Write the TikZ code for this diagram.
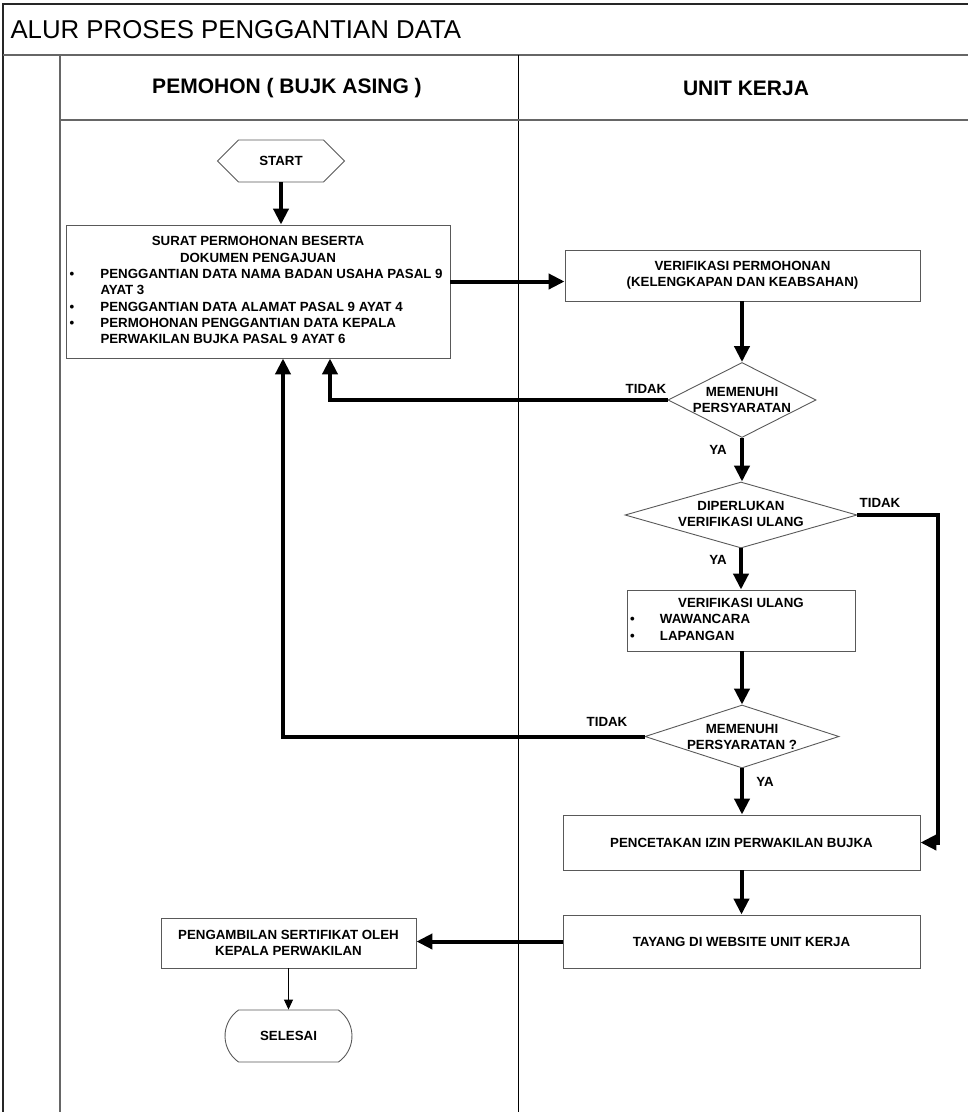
\documentclass[tikz,border=0pt]{standalone}
\usepackage{fontspec}
\setmainfont{Liberation Sans}
\usetikzlibrary{arrows.meta,shapes.geometric,shapes.symbols,shapes.misc}
\begin{document}
\begin{tikzpicture}[x=1pt,y=-1pt,
  txt/.style={font=\fontsize{13.3}{16.3}\selectfont\bfseries, text=black},
  box/.style={draw=black!65, line width=0.9pt, fill=white, inner sep=0pt, txt},
  dia/.style={draw=black!65, line width=0.9pt, diamond, inner sep=0pt},
  arr/.style={line width=4pt, -{Triangle[length=16pt,width=15pt]}},
  thinarr/.style={line width=1pt, -{Triangle[length=10pt,width=9pt]}},
  lane/.style={line width=1.2pt, draw=black!60},
  lbl/.style={txt}]
\useasboundingbox (0,0) rectangle (968,1112);
% frame and lanes
\coordinate (tl) at (3,4);
\coordinate (tr) at (968,4);
\coordinate (bl) at (3,1112);
\draw[line width=1.6pt, draw=black!85] (tr) -- (tl) -- (bl);
\draw[lane, line width=1.8pt] (3,55) -- (968,55);
\draw[lane] (60,55) -- (60,1112);
\draw[line width=1pt] (518,55) -- (518,1112);
\draw[lane] (60,120) -- (968,120);
\node[anchor=west, font=\fontsize{25.8}{28}\selectfont] (title) at (7,30) {ALUR PROSES PENGGANTIAN DATA};
\node[font=\fontsize{21}{24}\selectfont\bfseries] (h1) at (287,88) {PEMOHON ( BUJK ASING )};
\node[font=\fontsize{21}{24}\selectfont\bfseries] (h2) at (746,88) {UNIT KERJA};

% nodes
\node[signal, signal to=west and east, draw=black!65, line width=0.9pt, fill=white,
      minimum width=127pt, minimum height=42pt, inner sep=0pt, txt] (st) at (281,161) {START};
\node[box, minimum width=384pt, minimum height=133pt] (b1) at (258,291.5)
 {\begin{tabular}{@{}p{31pt}@{}p{346pt}@{}}
  \multicolumn{2}{@{}c@{}}{SURAT PERMOHONAN BESERTA}\\
  \multicolumn{2}{@{}c@{}}{DOKUMEN PENGAJUAN}\\
  \textbullet & PENGGANTIAN DATA NAMA BADAN USAHA PASAL 9\\
   & AYAT 3\\
  \textbullet & PENGGANTIAN DATA ALAMAT PASAL 9 AYAT 4\\
  \textbullet & PERMOHONAN PENGGANTIAN DATA KEPALA\\
   & PERWAKILAN BUJKA PASAL 9 AYAT 6
  \end{tabular}};
\node[box, align=center, minimum width=355pt, minimum height=51pt] (v1) at (742.5,275.5)
 {VERIFIKASI PERMOHONAN\\(KELENGKAPAN DAN KEABSAHAN)};
\node[dia, minimum width=148pt, minimum height=75pt] (d1) at (742,400) {};
\node[txt, align=center] (d1t) at (742,400) {MEMENUHI\\PERSYARATAN};
\node[dia, minimum width=232pt, minimum height=66pt] (d2) at (741,515) {};
\node[txt, align=center] (d2t) at (741,514) {DIPERLUKAN\\VERIFIKASI ULANG};
\node[box, minimum width=228pt, minimum height=61pt] (b3) at (741,620.5)
 {\begin{tabular}{@{}p{30pt}@{}p{192pt}@{}}
  \multicolumn{2}{@{}c@{}}{VERIFIKASI ULANG}\\
  \textbullet & WAWANCARA\\
  \textbullet & LAPANGAN
  \end{tabular}};
\node[dia, minimum width=194pt, minimum height=63pt] (d3) at (742,736.5) {};
\node[txt, align=center] (d3t) at (742,737) {MEMENUHI\\PERSYARATAN ?};
\node[box, minimum width=357pt, minimum height=55pt] (p4) at (741.5,842.5) {PENCETAKAN IZIN PERWAKILAN BUJKA};
\node[box, minimum width=357pt, minimum height=53pt] (p5) at (741.5,941.5) {TAYANG DI WEBSITE UNIT KERJA};
\node[box, align=center, minimum width=255pt, minimum height=50pt] (p6) at (288.5,943)
 {PENGAMBILAN SERTIFIKAT OLEH\\KEPALA PERWAKILAN};
\node[rounded rectangle, rounded rectangle arc length=110, draw=black!65, line width=0.9pt,
      minimum width=127pt, minimum height=52pt, inner sep=0pt, txt] (sel) at (288.5,1036) {SELESAI};

% labels
\node[lbl] (l1) at (646,389) {TIDAK};
\node[lbl] (l2) at (718,450) {YA};
\node[lbl] (l3) at (880,503) {TIDAK};
\node[lbl] (l4) at (718,560) {YA};
\node[lbl] (l5) at (607,722) {TIDAK};
\node[lbl] (l6) at (765,782) {YA};

% connectors
\coordinate (v1in) at ([yshift=-6pt]v1.west);
\draw[arr] (st.south) -- (st.south |- b1.north);
\draw[arr] (v1in -| b1.east) -- (v1in);
\draw[arr] (v1.south -| d1.north) -- (d1.north);
\draw[arr] (d1.west) -| ([xshift=72pt]b1.south);
\draw[arr] (d1.south) -- (d1.south |- d2.north);
\draw[arr] (d2.south) -- (d2.south |- b3.north);
\draw[arr] (d2.east) -- ([xshift=81pt]d2.east) |- (p4.east);
\draw[arr] (b3.south -| d3.north) -- (d3.north);
\draw[arr] (d3.west) -| ([xshift=25pt]b1.south);
\draw[arr] (d3.south) -- (d3.south |- p4.north);
\draw[arr] (p4.south) -- (p5.north);
\draw[arr] (p5.west) -- (p5.west -| p6.east);
\draw[thinarr] (p6.south) -- (sel.north);
\end{tikzpicture}
\end{document}
